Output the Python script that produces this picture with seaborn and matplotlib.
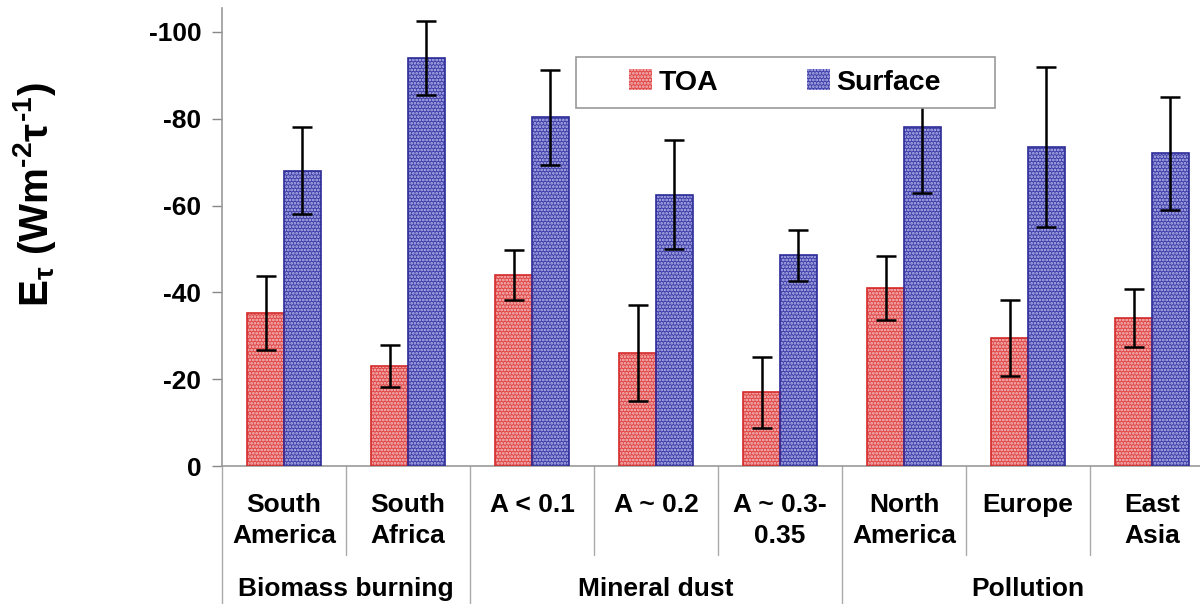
import numpy as np
import pandas as pd
import seaborn as sns
import matplotlib
matplotlib.use('Agg')
from matplotlib import pyplot as plt
from matplotlib.patches import Rectangle
from matplotlib.lines import Line2D

# chart data, forcing efficiency in W m-2 per unit AOD
regions = ['South\nAmerica', 'South\nAfrica', 'A < 0.1', 'A ~ 0.2', 'A ~ 0.3-\n0.35',
           'North\nAmerica', 'Europe', 'East\nAsia']
groups = ['Biomass burning', 'Mineral dust', 'Pollution']
group_sizes = [2, 3, 3]
toa = [-35.2, -23.0, -44.0, -26.0, -17.0, -41.0, -29.5, -34.0]
toa_err = [8.5, 4.8, 5.7, 11.0, 8.2, 7.3, 8.7, 6.7]
surface = [-68.0, -94.0, -80.3, -62.5, -48.5, -78.0, -73.5, -72.0]
surface_err = [10.0, 8.5, 11.0, 12.5, 5.8, 15.0, 18.5, 13.0]
yticks = [0, -20, -40, -60, -80, -100]

sns.set_theme(style='white')
plt.rcParams['font.family'] = ['Liberation Sans', 'DejaVu Sans']
plt.rcParams['font.weight'] = 'bold'
plt.rcParams['text.color'] = 'black'
plt.rcParams['axes.labelcolor'] = 'black'
plt.rcParams['mathtext.fontset'] = 'custom'
plt.rcParams['mathtext.rm'] = 'Liberation Sans:bold'
plt.rcParams['mathtext.it'] = 'Liberation Sans:bold'
plt.rcParams['mathtext.bf'] = 'Liberation Sans:bold'
plt.rcParams['hatch.linewidth'] = 1.3

df = pd.DataFrame({
    'region': regions * 2,
    'type': ['TOA'] * len(regions) + ['Surface'] * len(regions),
    'value': toa + surface,
})

fill = {'TOA': '#e04848', 'Surface': '#4040aa'}
dots = {'TOA': '#f6c4c4', 'Surface': '#bcbcee'}
edge = {'TOA': '#d42a2a', 'Surface': '#2c2c98'}
FS = 19

fig = plt.figure(figsize=(12, 6.04), dpi=100)
ax = fig.add_axes([222 / 1200, 138 / 604, 992 / 1200, 458 / 604])

sns.barplot(data=df, x='region', y='value', hue='type', order=regions,
            hue_order=['TOA', 'Surface'], palette=fill, width=0.59, gap=0,
            errorbar=None, ax=ax, legend=False, saturation=1)

# dotted fill: light hatch over coloured face, then a solid outline on top
n = len(regions)
for i, p in enumerate(ax.patches[:2 * n]):
    kind = 'TOA' if i < n else 'Surface'
    p.set_hatch('.....')
    p.set_edgecolor(dots[kind])
    p.set_linewidth(0)
    ax.add_patch(Rectangle(p.get_xy(), p.get_width(), p.get_height(), fill=False,
                           edgecolor=edge[kind], linewidth=1.2, zorder=3))

# error bars from the listed values
for i, p in enumerate(ax.patches[:2 * n]):
    errs = toa_err if i < n else surface_err
    vals = toa if i < n else surface
    ax.errorbar(p.get_x() + p.get_width() / 2, vals[i % n], yerr=errs[i % n],
                fmt='none', ecolor='black', elinewidth=1.8, capsize=7, capthick=1.8,
                zorder=4)

ax.set_xlim(-0.5, n - 0.5)
ax.set_ylim(0, -105.5)
ax.set_yticks(yticks)
ax.set_yticklabels([str(t) for t in yticks], fontsize=FS, fontweight='bold')
ax.set_xticks([])
ax.set_xlabel('')
ax.set_ylabel('E$_{\\tau}$ (Wm$^{\u2010 2}\\tau^{\u2010 1}$)', fontsize=29,
              fontweight='bold')
ax.yaxis.set_label_coords(-0.165, 0.592)
ax.tick_params(axis='y', left=True, length=7, width=1, color='#888888', pad=8,
               labelcolor='black')
for side in ['top', 'right']:
    ax.spines[side].set_visible(False)
for side in ['left', 'bottom']:
    ax.spines[side].set_color('#999999')
    ax.spines[side].set_linewidth(1.2)

# category labels and separators under the axis
tr = ax.get_xaxis_transform()
for i, lab in enumerate(regions):
    ax.text(i, -0.058, lab, transform=tr, ha='center', va='top', fontsize=FS,
            fontweight='bold', linespacing=1.38)
starts = np.cumsum([0] + group_sizes)
for i in range(1, n):
    if i not in starts:
        ax.add_line(Line2D([i - 0.5, i - 0.5], [0, -0.194], transform=tr,
                           color='#aaaaaa', lw=1, clip_on=False))
for s in starts:
    ax.add_line(Line2D([s - 0.5, s - 0.5], [0, -0.31], transform=tr,
                       color='#aaaaaa', lw=1, clip_on=False))
for g, a, b in zip(groups, starts[:-1], starts[1:]):
    ax.text((a + b - 1) / 2, -0.268, g, transform=tr, ha='center', va='center',
            fontsize=FS, fontweight='bold')

# legend box drawn as its own rectangle, entries placed inside it
fig.patches.append(Rectangle((576 / 1200, 1 - 108 / 604), 419 / 1200, 51 / 604,
                             transform=fig.transFigure, facecolor='white',
                             edgecolor='#999999', linewidth=1.2, zorder=5))
handles = [Rectangle((0, 0), 1, 1, facecolor=fill[k], edgecolor=dots[k],
                     hatch='.....', linewidth=0) for k in ['TOA', 'Surface']]
leg = fig.legend(handles, ['TOA', 'Surface'], loc='center', ncol=2,
                 bbox_to_anchor=(785 / 1200, 1 - 82.5 / 604), fontsize=20.5,
                 frameon=False, handlelength=0.8, handleheight=0.75,
                 handletextpad=0.25, columnspacing=3.1, borderpad=0.2)
leg.set_zorder(6)
for t in leg.get_texts():
    t.set_fontweight('bold')

fig.savefig('out.png', dpi=100)
